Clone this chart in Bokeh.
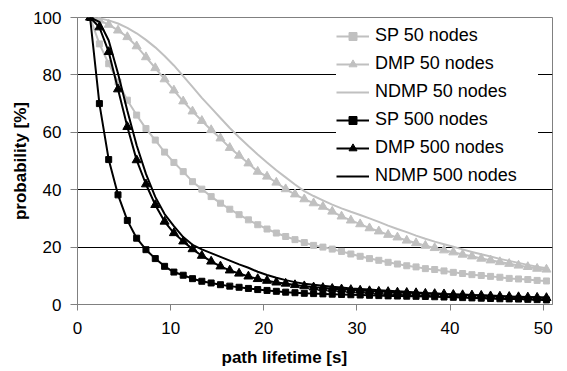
from bokeh.plotting import figure
from bokeh.models import Range1d, FixedTicker, Legend, LegendItem, Title
from bokeh.embed import file_html
from bokeh.resources import INLINE

# path lifetime sample points [s]
lifetime = [1.35, 2.35, 3.35, 4.35, 5.35, 6.35, 7.35, 8.35, 9.35, 10.35,
            11.35, 12.35, 13.35, 14.35, 15.35, 16.35, 17.35, 18.35, 19.35, 20.35,
            21.35, 22.35, 23.35, 24.35, 25.35, 26.35, 27.35, 28.35, 29.35, 30.35,
            31.35, 32.35, 33.35, 34.35, 35.35, 36.35, 37.35, 38.35, 39.35, 40.35,
            41.35, 42.35, 43.35, 44.35, 45.35, 46.35, 47.35, 48.35, 49.35, 50.35]

sp_50 = [100, 90.8, 83.9, 77.5, 71.2, 66.0, 61.3, 57.3, 53.1, 49.5,
         46.3, 42.8, 40.2, 37.6, 35.3, 33.2, 31.3, 29.5, 27.8, 26.3,
         24.9, 23.7, 22.6, 21.6, 20.6, 20.0, 19.3, 18.5, 17.6, 16.8,
         16.0, 15.4, 14.7, 14.1, 13.5, 13.1, 12.5, 12.2, 11.7, 11.2,
         10.8, 10.4, 10.1, 9.8, 9.5, 9.1, 8.9, 8.7, 8.4, 8.2]

dmp_50 = [100, 99.0, 97.5, 95.5, 93.2, 90.0, 86.2, 82.4, 78.5, 74.6,
          70.8, 67.3, 64.0, 60.8, 57.9, 54.6, 51.9, 49.2, 46.3, 44.6,
          42.5, 40.2, 38.4, 36.7, 35.3, 34.1, 32.4, 30.7, 29.3, 28.0,
          26.6, 25.5, 24.3, 23.4, 22.3, 21.4, 20.5, 19.7, 18.9, 18.2,
          17.4, 16.8, 16.0, 15.4, 14.8, 14.2, 13.6, 13.1, 12.5, 12.2]

ndmp_50 = [100, 99.7, 99.0, 97.9, 96.4, 94.5, 92.2, 89.6, 86.6, 83.3,
           79.6, 75.8, 72.0, 68.5, 65.0, 61.5, 58.3, 55.2, 52.3, 49.5,
           46.8, 44.3, 41.8, 39.5, 37.8, 36.3, 34.8, 33.5, 32.3, 31.2,
           30.0, 28.8, 27.5, 26.3, 25.2, 24.0, 22.9, 21.9, 21.0, 20.1,
           19.2, 18.3, 17.5, 16.7, 15.9, 15.2, 14.5, 13.8, 13.2, 12.6]

sp_500 = [100, 70.0, 50.5, 38.2, 29.3, 23.1, 19.1, 16.0, 13.3, 11.3,
          10.2, 9.0, 8.1, 7.5, 6.9, 6.4, 6.0, 5.6, 5.2, 4.9,
          4.6, 4.3, 4.1, 3.9, 3.8, 3.7, 3.6, 3.5, 3.4, 3.3,
          3.2, 3.1, 3.0, 2.95, 2.9, 2.85, 2.8, 2.7, 2.6, 2.5,
          2.4, 2.3, 2.2, 2.1, 2.0, 1.95, 1.9, 1.8, 1.7, 1.6]

dmp_500 = [100, 96.6, 88.0, 75.0, 61.9, 50.3, 41.9, 34.7, 28.9, 24.9,
           22.0, 19.3, 17.0, 15.0, 13.3, 11.9, 10.8, 9.8, 8.9, 8.3,
           7.7, 7.3, 6.8, 6.4, 6.0, 5.8, 5.5, 5.3, 5.1, 4.9,
           4.7, 4.5, 4.4, 4.2, 4.1, 4.0, 3.8, 3.7, 3.6, 3.4,
           3.3, 3.2, 3.1, 2.9, 2.8, 2.7, 2.6, 2.5, 2.4, 2.3]

ndmp_500 = [100, 98.5, 92.0, 80.5, 67.5, 55.5, 45.5, 37.5, 31.5, 27.3,
            23.5, 20.8, 19.2, 17.9, 16.6, 15.3, 14.0, 12.8, 11.4, 10.3,
            9.3, 8.5, 7.8, 7.2, 6.9, 6.5, 6.2, 5.9, 5.6, 5.4,
            5.2, 5.0, 4.8, 4.6, 4.4, 4.2, 4.0, 3.9, 3.7, 3.6,
            3.5, 3.3, 3.2, 3.1, 3.0, 2.8, 2.7, 2.6, 2.5, 2.4]

series_names = ["SP 50 nodes", "DMP 50 nodes", "NDMP 50 nodes",
                "SP 500 nodes", "DMP 500 nodes", "NDMP 500 nodes"]
x_ticks = [0, 10, 20, 30, 40, 50]
y_ticks = [0, 20, 40, 60, 80, 100]

GRAY = "#C0C0C0"
AXIS = "#808080"
FONT = "Liberation Sans"

p = figure(width=567, height=371, output_backend="svg", toolbar_location=None,
           x_range=Range1d(0, 51), y_range=Range1d(0, 100),
           min_border_left=77, min_border_right=15, min_border_top=17,
           min_border_bottom=66)
p.outline_line_color = AXIS
p.outline_line_width = 1
p.xgrid.visible = False
p.ygrid.ticker = FixedTicker(ticks=[20, 40, 60, 80])
p.ygrid.grid_line_color = "black"
p.ygrid.grid_line_width = 1

for ax in (p.xaxis[0], p.yaxis[0]):
    ax.axis_line_color = AXIS
    ax.major_tick_line_color = AXIS
    ax.minor_tick_line_color = None
    ax.major_tick_in = 0
    ax.major_label_text_font = FONT
    ax.major_label_text_font_size = "17px"
    ax.major_label_text_color = "black"
p.xaxis[0].ticker = FixedTicker(ticks=x_ticks)
p.yaxis[0].ticker = FixedTicker(ticks=y_ticks)
p.xaxis[0].major_tick_out = 6
p.yaxis[0].major_tick_out = 7
p.xaxis[0].major_label_standoff = 11
p.yaxis[0].major_label_standoff = 9

p.yaxis[0].axis_label = "probability [%]"
p.yaxis[0].axis_label_text_font = FONT
p.yaxis[0].axis_label_text_font_style = "bold"
p.yaxis[0].axis_label_text_font_size = "17px"
p.yaxis[0].axis_label_text_color = "black"
p.yaxis[0].axis_label_standoff = 0

styles = [
    (sp_50, GRAY, "square"),
    (dmp_50, GRAY, "triangle"),
    (ndmp_50, GRAY, None),
    (sp_500, "black", "square"),
    (dmp_500, "black", "triangle"),
    (ndmp_500, "black", None),
]

items = []
for name, (vals, col, mk) in zip(series_names, styles):
    rs = [p.line(lifetime, vals, line_color=col, line_width=2)]
    if mk == "square":
        rs.append(p.scatter(lifetime, vals, marker="square", size=6,
                            fill_color=col, line_color=col))
    elif mk == "triangle":
        rs.append(p.scatter(lifetime, vals, marker="triangle", size=9,
                            fill_color=col, line_color=col))
    items.append(LegendItem(label=name, renderers=rs))

legend = Legend(items=items, location=(259, 118),
                border_line_color=None, background_fill_color="white",
                background_fill_alpha=1.0, padding=7, spacing=7,
                glyph_width=33, glyph_height=20, label_height=20,
                label_width=163, label_standoff=6,
                label_text_font=FONT, label_text_font_size="18px",
                label_text_color="black")
p.add_layout(legend)

p.add_layout(Title(text="path lifetime [s]", align="left", offset=144,
                   text_font=FONT, text_font_style="bold",
                   text_font_size="17px", text_color="black",
                   padding=dict(left=0, right=0, top=4, bottom=0)),
             "below")

open("out.html", "w").write(file_html(p, INLINE))
